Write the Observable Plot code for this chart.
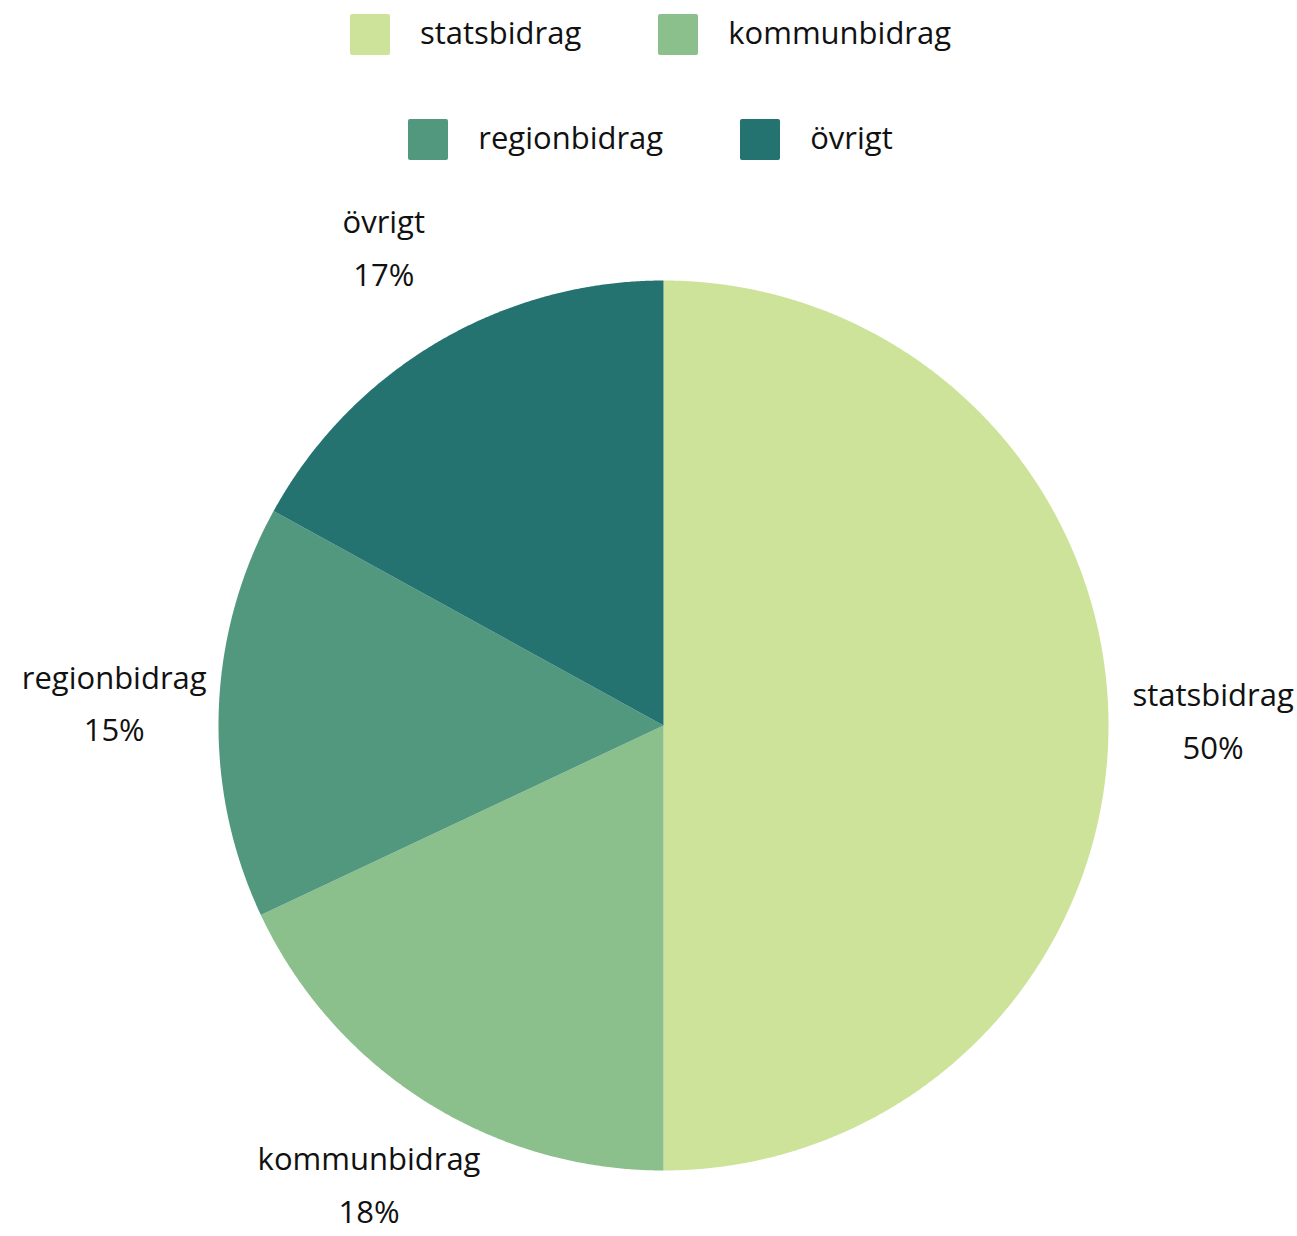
<!DOCTYPE html>
<html>
<head>
<meta charset="utf-8">
<script src="https://cdn.jsdelivr.net/npm/d3@7"></script>
<script src="https://cdn.jsdelivr.net/npm/@observablehq/plot@0.6"></script>
<style>
  html, body { margin: 0; padding: 0; background: #fff; }
  body { width: 1297px; font-family: "Open Sans", sans-serif; color: #111; }
  #legend { height: 180px; box-sizing: border-box; padding-top: 14px; }
  .row { display: flex; justify-content: center; gap: 77px; height: 41px; align-items: center; padding-left: 4px; }
  .row + .row { margin-top: 64px; }
  .item { display: flex; align-items: center; gap: 30px; font-size: 31px; line-height: 41px; }
  .item span { position: relative; top: -2px; }
  .sw { width: 40px; height: 41px; border-radius: 2px; }
  #chart svg { display: block; }
</style>
</head>
<body>
<div id="legend"></div>
<div id="chart"></div>
<script>
const categories = ["statsbidrag", "kommunbidrag", "regionbidrag", "övrigt"];
const shares = [50, 18, 15, 17];
const colors = ["#cce399", "#8bbf8b", "#52987e", "#247370"];
const legendRows = [["statsbidrag", "kommunbidrag"], ["regionbidrag", "övrigt"]];

// legend
const legend = document.getElementById("legend");
for (const row of legendRows) {
  const r = document.createElement("div");
  r.className = "row";
  for (const c of row) {
    const it = document.createElement("div");
    it.className = "item";
    const sw = document.createElement("div");
    sw.className = "sw";
    sw.style.background = colors[categories.indexOf(c)];
    const t = document.createElement("span");
    t.textContent = c;
    it.append(sw, t);
    r.append(it);
  }
  legend.append(r);
}

// pie geometry from the values
const arcs = d3.pie().sort(null).value(d => d)(shares);
const polys = [];
arcs.forEach((a, i) => {
  polys.push({cat: categories[i], x: 0, y: 0});
  const n = Math.max(2, Math.ceil((a.endAngle - a.startAngle) / 0.005));
  for (let k = 0; k <= n; k++) {
    const t = a.startAngle + (a.endAngle - a.startAngle) * k / n;
    polys.push({cat: categories[i], x: Math.sin(t), y: Math.cos(t)});
  }
  polys.push({cat: categories[i], x: 0, y: 0});
});
const labelR = 1.235;
const labels = arcs.map((a, i) => {
  const m = (a.startAngle + a.endAngle) / 2;
  return {cat: categories[i], x: labelR * Math.sin(m), y: labelR * Math.cos(m), text: categories[i] + "\n" + shares[i] + "%"};
});

const W = 1297, H = 1056, R = 445, cx = 663, cy = 545;
const plot = Plot.plot({
  width: W,
  height: H,
  margin: 0,
  x: {domain: [-cx / R, (W - cx) / R], axis: null},
  y: {domain: [-(H - cy) / R, cy / R], axis: null},
  color: {domain: categories, range: colors},
  style: {fontFamily: "Open Sans, sans-serif", fontSize: "31px", color: "#111", overflow: "visible"},
  marks: [
    Plot.line(polys, {x: "x", y: "y", z: "cat", fill: "cat", stroke: null, curve: "linear"}),
    Plot.text(labels, {x: "x", y: "y", text: "text", lineHeight: 1.7, fontSize: 31, fill: "#111", textAnchor: "middle", dy: -10})
  ]
});
document.getElementById("chart").append(plot);
</script>
</body>
</html>
